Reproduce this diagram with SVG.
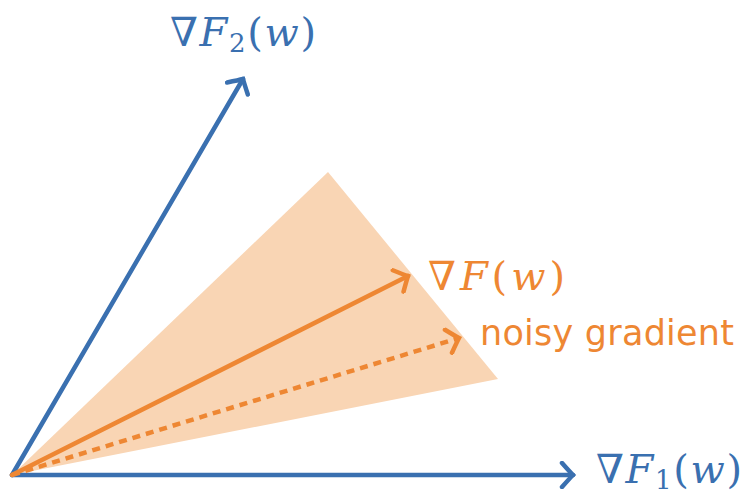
<svg xmlns="http://www.w3.org/2000/svg" width="748" height="498" viewBox="0 0 748 498">
<defs>
<style>
.blue{stroke:#3a70b0;stroke-width:4.5;fill:none;stroke-linecap:round}
.orange{stroke:#ee8733;stroke-width:4.5;fill:none;stroke-linecap:round}
.dash{stroke-dasharray:8 6;stroke-linecap:butt}
.math{font-family:"DejaVu Serif","Liberation Serif",serif;font-size:40px}
.it{font-style:italic}
.sans{font-family:"DejaVu Sans","Liberation Sans",sans-serif;font-size:35px}
</style>
<marker id="ab" viewBox="-14 -14 18 28" markerWidth="18" markerHeight="28" refX="0" refY="0" orient="auto" markerUnits="userSpaceOnUse">
<path d="M-11,-12 Q-3,-3 0,0 Q-3,3 -11,12" fill="none" stroke="#3a70b0" stroke-width="4.5" stroke-linecap="round"/>
</marker>
<marker id="ao" viewBox="-14 -14 18 28" markerWidth="18" markerHeight="28" refX="0" refY="0" orient="auto" markerUnits="userSpaceOnUse">
<path d="M-11,-12 Q-3,-3 0,0 Q-3,3 -11,12" fill="none" stroke="#ee8733" stroke-width="4.5" stroke-linecap="round"/>
</marker>
</defs>
<rect width="748" height="498" fill="#ffffff"/>
<g id="cone">
<polygon points="12,475 328,172 498,379" fill="#f9d5b4"/>
</g>
<g id="connectors">
<line class="blue" x1="12" y1="475" x2="573" y2="475" marker-end="url(#ab)"/>
<line class="blue" x1="12" y1="475" x2="243" y2="79" marker-end="url(#ab)"/>
<line class="orange" x1="12" y1="475" x2="408" y2="276" marker-end="url(#ao)"/>
<line class="orange dash" x1="12" y1="475" x2="459" y2="338" marker-end="url(#ao)"/>
</g>
<g id="label-f2" fill="#3a70b0">
<text class="math" x="170" y="46" textLength="146" lengthAdjust="spacing">∇<tspan class="it">F</tspan><tspan font-size="26" dy="6">2</tspan><tspan dy="-6">(</tspan><tspan class="it">w</tspan>)</text>
</g>
<g id="label-f1" fill="#3a70b0">
<text class="math" x="596" y="483" textLength="146" lengthAdjust="spacing">∇<tspan class="it">F</tspan><tspan font-size="26" dy="6">1</tspan><tspan dy="-6">(</tspan><tspan class="it">w</tspan>)</text>
</g>
<g id="label-f" fill="#ee8733">
<text class="math" x="428" y="290" textLength="137" lengthAdjust="spacing">∇<tspan class="it">F</tspan>(<tspan class="it">w</tspan>)</text>
</g>
<g id="label-noisy" fill="#ee8733">
<text class="sans" x="480" y="345" textLength="254" lengthAdjust="spacing">noisy gradient</text>
</g>
</svg>
